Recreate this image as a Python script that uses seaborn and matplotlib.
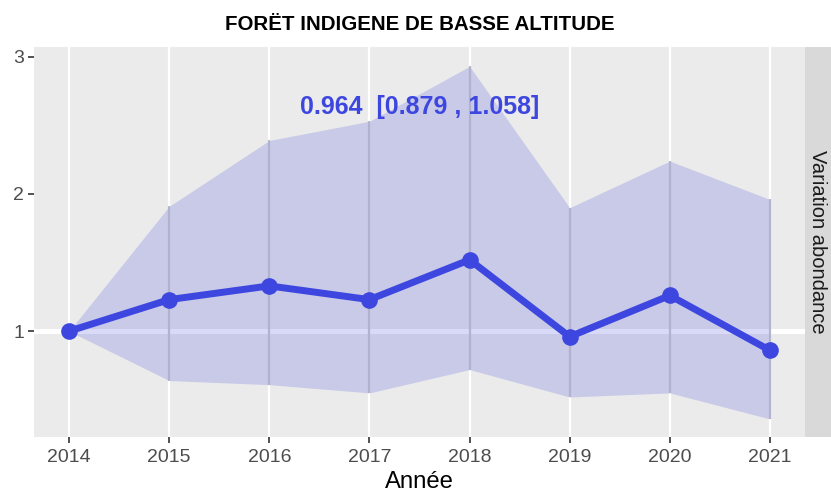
import seaborn as sns
import matplotlib.pyplot as plt
import pandas as pd

years = [2014, 2015, 2016, 2017, 2018, 2019, 2020, 2021]
variation = [1.0, 1.23, 1.33, 1.23, 1.52, 0.96, 1.26, 0.86]
ci_low = [1.0, 0.64, 0.61, 0.55, 0.72, 0.52, 0.55, 0.36]
ci_high = [1.0, 1.91, 2.39, 2.53, 2.93, 1.90, 2.24, 1.96]
trend_label = "0.964  [0.879 , 1.058]"
title = "FORËT INDIGENE DE BASSE ALTITUDE"
strip_label = "Variation abondance"

df = pd.DataFrame({'annee': years, 'var': variation, 'low': ci_low, 'high': ci_high})

sns.set_style('white')
plt.rcParams['font.family'] = ['Liberation Sans', 'DejaVu Sans']

blue = '#3d47e0'
fig = plt.figure(figsize=(8.31, 4.93), dpi=100)
ax = fig.add_axes([34/831, 56/493, 771/831, 390/493])
ax.set_facecolor('#ebebeb')
for s in ax.spines.values():
    s.set_visible(False)

# grid: vertical white lines at years, one white line at y=1
for yr in years:
    ax.axvline(yr, color='white', lw=1.6, zorder=0)
ax.axhline(1, color='white', lw=3.6, zorder=0)

ax.fill_between(df['annee'], df['low'], df['high'], color=blue, alpha=0.2, lw=0, zorder=1)
ax.vlines(df['annee'], df['low'], df['high'], color='#a8a8c0', lw=1.6, alpha=0.8, zorder=1.5)
sns.lineplot(data=df, x='annee', y='var', ax=ax, color=blue, lw=5,
             marker='o', markersize=12, markeredgewidth=0, zorder=3)

ax.text(2017.5, 2.635, trend_label, color=blue, fontsize=18, fontweight='bold',
        ha='center', va='center', zorder=4)

ax.set_xlim(2013.65, 2021.35)
ax.set_ylim(0.2285, 3.0715)
ax.set_xticks(years)
ax.set_yticks([1, 2, 3])
ax.tick_params(axis='both', length=4.5, width=1.2, color='#333333', labelcolor='#4d4d4d',
               labelsize=14, pad=2.5, left=True, bottom=True)
ax.tick_params(axis='x', pad=4.5)
ax.set_xlabel('Année', fontsize=17.2, color='black', labelpad=3)
ax.set_ylabel('')
ax.set_title(title, fontsize=14.8, fontweight='bold', color='black', pad=12)

# right-hand facet strip
sax = fig.add_axes([805/831, 56/493, 26/831, 390/493])
sax.set_facecolor('#d9d9d9')
sax.set_xticks([])
sax.set_yticks([])
for s in sax.spines.values():
    s.set_visible(False)
sax.text(0.5, 0.5, strip_label, rotation=-90, ha='center', va='center',
         fontsize=14.5, color='#1a1a1a', transform=sax.transAxes)

fig.savefig('out.png', dpi=100)
